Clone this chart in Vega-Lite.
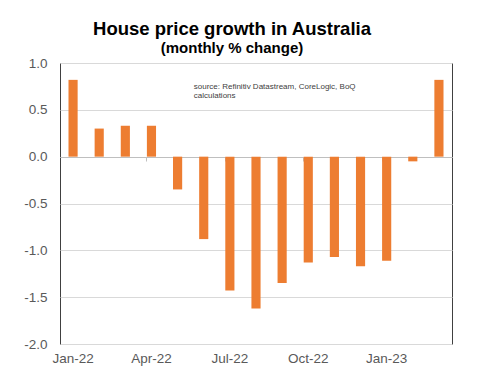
{
  "$schema": "https://vega.github.io/schema/vega-lite/v6.json",
  "width": 392,
  "height": 281,
  "autosize": "none",
  "padding": {"left": 60, "top": 63, "right": 37, "bottom": 48},
  "background": "white",
  "config": {
    "font": "Liberation Sans",
    "view": {"stroke": "#404040", "strokeWidth": 1}
  },
  "title": {
    "text": "House price growth in Australia",
    "subtitle": "(monthly % change)",
    "fontSize": 18.5,
    "fontWeight": "bold",
    "color": "black",
    "subtitleFontSize": 15,
    "subtitleFontWeight": "bold",
    "subtitleColor": "black",
    "subtitlePadding": 3,
    "anchor": "middle",
    "dx": -24,
    "offset": 0
  },
  "datasets": {
    "growth": [
      {"month": "Jan-22", "value": 0.82},
      {"month": "Feb-22", "value": 0.30},
      {"month": "Mar-22", "value": 0.33},
      {"month": "Apr-22", "value": 0.33},
      {"month": "May-22", "value": -0.35},
      {"month": "Jun-22", "value": -0.88},
      {"month": "Jul-22", "value": -1.43},
      {"month": "Aug-22", "value": -1.62},
      {"month": "Sep-22", "value": -1.35},
      {"month": "Oct-22", "value": -1.13},
      {"month": "Nov-22", "value": -1.07},
      {"month": "Dec-22", "value": -1.17},
      {"month": "Jan-23", "value": -1.11},
      {"month": "Feb-23", "value": -0.05},
      {"month": "Mar-23", "value": 0.82}
    ],
    "note": [
      {"month": "Jun-22", "value": 0.79, "label": "source:  Refinitiv Datastream, CoreLogic, BoQ\ncalculations"}
    ]
  },
  "resolve": {"axis": {"x": "independent"}},
  "layer": [
    {
      "data": {"name": "growth"},
      "mark": {"type": "bar", "color": "#ED7D31"},
      "encoding": {
        "x": {
          "field": "month",
          "type": "ordinal",
          "sort": null,
          "scale": {"paddingInner": 0.65, "paddingOuter": 0.325},
          "axis": {
            "orient": "bottom",
            "values": ["Jan-22", "Apr-22", "Jul-22", "Oct-22", "Jan-23"],
            "labelAngle": 0,
            "ticks": false,
            "domain": false,
            "title": null,
            "labelColor": "#595959",
            "labelFontSize": 13.5,
            "labelPadding": 7
          }
        },
        "y": {
          "field": "value",
          "type": "quantitative",
          "scale": {"domain": [-2, 1], "nice": false, "zero": false},
          "axis": {
            "values": [-2, -1.5, -1, -0.5, 0, 0.5, 1],
            "labelExpr": "datum.value < 0 ? '-' + format(-datum.value, '.1f') : format(datum.value, '.1f')",
            "title": null,
            "ticks": false,
            "domain": false,
            "gridColor": "#d9d9d9",
            "labelColor": "#595959",
            "labelFontSize": 13.5,
            "labelPadding": 13
          }
        }
      }
    },
    {
      "data": {"name": "growth"},
      "mark": {"type": "bar", "opacity": 0},
      "encoding": {
        "x": {
          "field": "month",
          "type": "ordinal",
          "sort": null,
          "axis": {
            "orient": "bottom",
            "offset": -187,
            "values": ["Apr-22", "Jul-22", "Oct-22", "Jan-23"],
            "bandPosition": 0,
            "labels": false,
            "ticks": true,
            "tickSize": 4,
            "tickColor": "#bfbfbf",
            "domain": true,
            "domainColor": "#bfbfbf",
            "grid": false,
            "title": null
          }
        },
        "y": {"field": "value", "type": "quantitative"}
      }
    },
    {
      "data": {"name": "note"},
      "mark": {"type": "text", "align": "left", "baseline": "top", "dx": -10, "fontSize": 8, "color": "#404040", "lineBreak": "\n", "lineHeight": 9},
      "encoding": {
        "x": {"field": "month", "type": "ordinal", "sort": null, "axis": null},
        "y": {"field": "value", "type": "quantitative"},
        "text": {"field": "label"}
      }
    }
  ]
}
